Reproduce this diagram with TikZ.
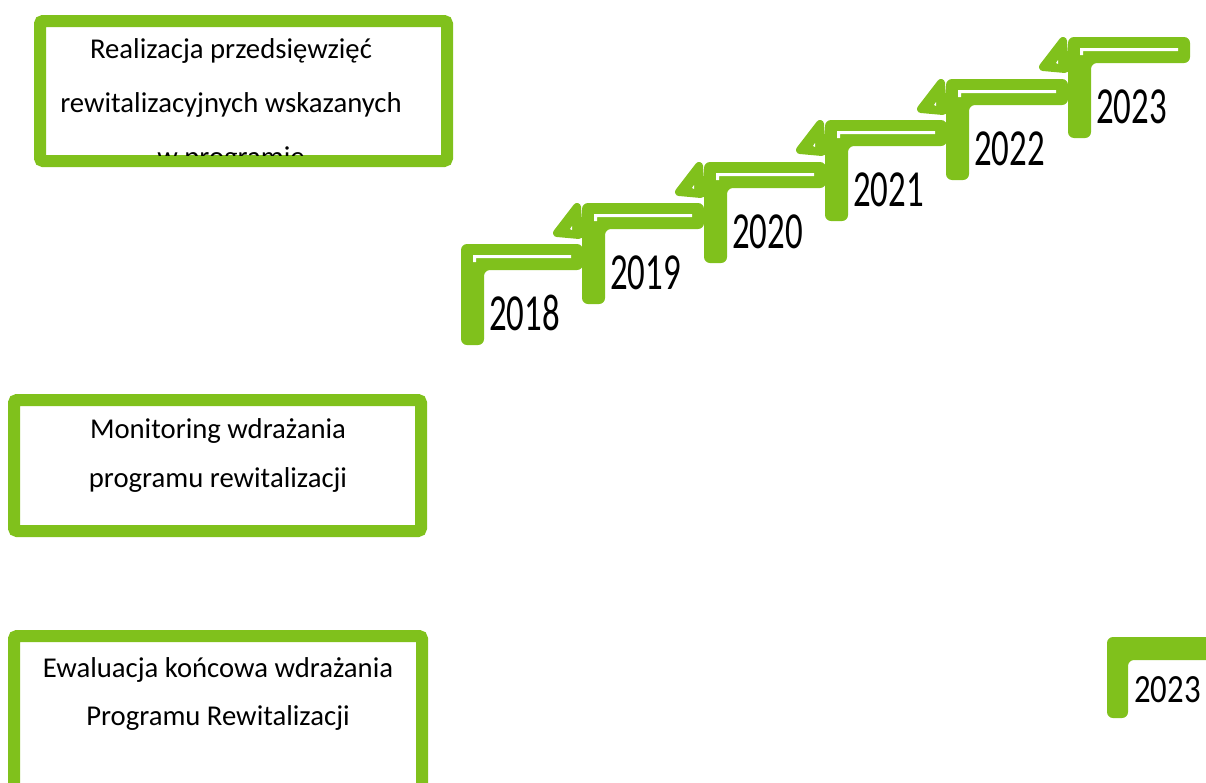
\documentclass[tikz,border=0pt]{standalone}
\usepackage{fontspec}
\setmainfont{Carlito}
\definecolor{stepgreen}{HTML}{80C11C}
\tikzset{
  frame/.style={draw=stepgreen, line width=12, rounded corners=3, fill=white, inner sep=0},
  boxtext/.style={font=\fontsize{28.7}{32}\selectfont, anchor=base, inner sep=0},
  yeartext/.style={font=\fontsize{52}{60}\selectfont, anchor=base west, inner sep=0, xscale=0.67},
  stepfill/.style={fill=stepgreen, rounded corners=6},
  tri/.style={fill=stepgreen, draw=stepgreen, line width=8, line join=round},
}
\newcommand\yearstep[4]{% X, Y, label, name
  \begin{scope}[shift={(#1,#2)}]
    \fill[stepfill] (0,0) -- (122,0) -- (122,26) -- (23,26) -- (23,101) -- (0,101) -- cycle;
    \fill[white] (12,11) -- (110,11) -- (110,14) -- (15,14) -- (15,18) -- (12,18) -- cycle;
    \node[yeartext] (#4) at (28,86) {#3};
  \end{scope}}
\newcommand\steptri[2]{%
  \begin{scope}[shift={(#1,#2)}]
    \filldraw[tri] (-5,4) -- (-25,30) -- (-3,32) -- cycle;
    \fill[white] (-12,26) -- (-10,23) -- (-10,27) -- cycle;
  \end{scope}}
\begin{document}
\begin{tikzpicture}[x=1pt,y=-1pt]
  \useasboundingbox (0,0) rectangle (1206,782);
  \clip (0,0) rectangle (1206,782);
  % box 1
  \node[frame, minimum width=407, minimum height=140] (b1) at (243.5,91) {};
  \begin{scope}
    \clip (46,27) rectangle (441,155);
    \node[boxtext] (t1a) at (231,58) {Realizacja przedsięwzięć};
    \node[boxtext] (t1b) at (231,112) {rewitalizacyjnych wskazanych};
    \node[boxtext] (t1c) at (231,166) {w programie};
  \end{scope}
  % box 2
  \node[frame, minimum width=407, minimum height=131] (b2) at (217.5,465.5) {};
  \node[boxtext] (t2a) at (218,438) {Monitoring wdrażania};
  \node[boxtext] (t2b) at (218,487) {programu rewitalizacji};
  % box 3
  \node[frame, minimum width=408, minimum height=164] (b3) at (218,718) {};
  \node[boxtext] (t3a) at (218,677) {Ewaluacja końcowa wdrażania};
  \node[boxtext] (t3b) at (218,725) {Programu Rewitalizacji};
  % steps
  \yearstep{461}{244}{2018}{y18}
  \yearstep{582}{203}{2019}{y19}
  \yearstep{704}{162}{2020}{y20}
  \yearstep{825}{120}{2021}{y21}
  \yearstep{946}{79}{2022}{y22}
  \yearstep{1068}{37}{2023}{y23}
  \steptri{582}{203}
  \steptri{704}{162}
  \steptri{825}{120}
  \steptri{946}{79}
  \steptri{1068}{37}
  % bottom step
  \fill[stepfill] (1107,637) -- (1240,637) -- (1240,660) -- (1128,660) -- (1128,718) -- (1107,718) -- cycle;
  \node[font=\fontsize{40}{48}\selectfont, anchor=base west, inner sep=0, xscale=0.82] (y23b) at (1134,702) {2023};
\end{tikzpicture}
\end{document}
